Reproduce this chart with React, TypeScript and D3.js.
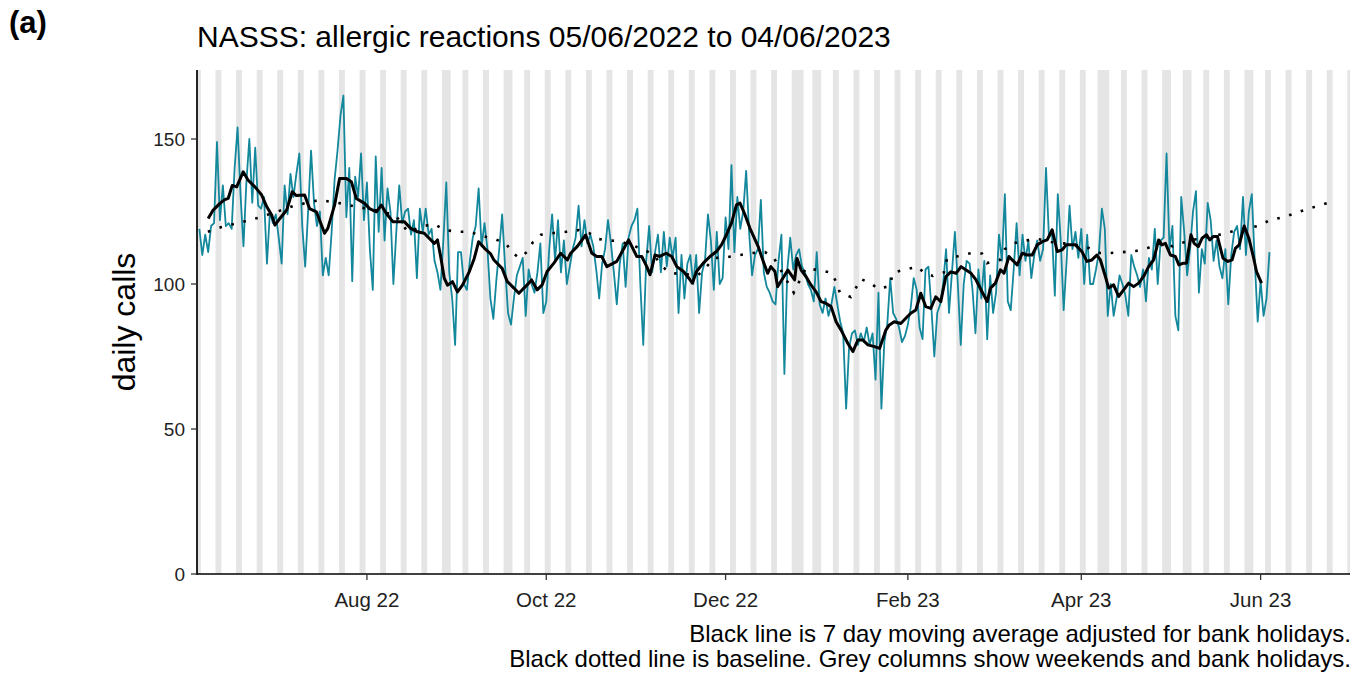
import React from "react";
import * as d3 from "d3";

// ---------------- data ----------------
const firstDay = "2022-06-05"; // day 0 of the daily series
const dailyCalls = [
  119, 110, 117, 111, 120, 121, 149, 122, 134, 120,
  121, 119, 140, 154, 131, 113, 135, 150, 128, 147,
  127, 126, 130, 107, 125, 121, 124, 116, 107, 134,
  124, 138,
  130, 138, 145, 120, 106, 125, 146, 128, 120, 125, 103, 109, 103, 118, 136, 146, 158, 165, 123, 140, 101, 137, 130, 145, 122, 135, 112, 98, 144, 118, 140, 115, 133, 125,
  100, 118, 134, 121, 125, 126, 117, 122, 102, 126, 118, 126, 117, 119, 108, 104, 98, 115, 135, 104, 95, 79, 111, 111, 100, 98, 108, 116, 120, 133, 113, 121, 112,
  95, 88, 101, 112, 124, 106, 90, 86, 95, 103, 106, 109, 89, 105, 100, 97, 104, 114, 90, 94, 112, 124, 108, 122, 104, 115, 100, 106, 112, 116, 127, 113, 122, 114,
  117, 113, 105, 95, 107, 112, 122, 114, 104, 93, 107, 114, 99, 116, 120, 122, 126, 100, 79, 108, 120, 104, 111, 117, 104, 118, 106, 116, 109, 116, 90, 110, 95, 107,
  110, 100, 110, 90, 104, 108, 124, 115, 98, 118, 100, 102, 123, 112, 141, 111, 130, 119, 125, 139, 118, 103, 110, 112, 129, 104, 99, 97, 94, 93, 108, 117, 69,
  105, 116, 105, 110, 112, 106, 104, 100, 98, 94, 111, 93, 90, 95, 89, 93, 99, 93, 87, 83, 57, 78, 83, 84, 79, 83, 80, 85, 79, 83, 67, 97, 57,
  80, 86, 102, 90, 88, 85, 80, 82, 86, 92, 102, 98, 85, 81, 105, 106, 92, 75, 90, 93, 100, 112, 90, 104, 118, 100, 79, 100, 108, 107,
  98, 83, 105, 95,
  108, 81, 103, 90, 97, 117, 108, 131, 94, 91, 105, 121, 103, 117, 108, 115, 102, 110, 115, 108, 112, 140, 116, 118, 96, 131, 115, 91, 108, 127, 112, 118, 109,
  119, 100, 117, 100, 100, 105, 111, 126, 119, 89, 100, 89, 95, 103, 100, 96, 89, 110, 106, 103, 99, 105, 94, 109, 105, 119, 100, 115, 116, 145, 112, 120, 89, 84,
  130, 118, 103, 112, 125, 132, 97, 112, 107, 128, 122, 108, 115, 106, 102, 112, 93, 110, 118, 120, 112, 130, 110, 125, 131, 108, 87, 101, 89, 95, 111,
];

// 7 day moving average: [day offset, value]
const movingAverage: [number, number][] = [
  [3, 122.6], [4.7, 125.5], [7, 127.8], [8.5, 129], [9.8, 129.5], [11.2, 134], [12.7, 133.5], [14.9, 138.7],
  [16.6, 135.8], [18.9, 133.5], [21.2, 130.7], [22.9, 126.7], [24.6, 123.8], [25.7, 120.3], [27.4, 122.6],
  [29.7, 125.5], [31.6, 131.8], [33, 130.5], [35.8, 130.7], [37.5, 126], [39.8, 124.9], [42.6, 117.5],
  [43.7, 119.2], [46, 127.2], [47.7, 136.4], [50, 136.4], [51.7, 135.3], [53.4, 129.5], [56.2, 127.8],
  [57.9, 126], [60.2, 124.9], [61.9, 127.2], [63.6, 124.3], [65.8, 121.5], [67.4, 121.5], [69.7, 121.5],
  [71.9, 119.2], [74.2, 118], [76.5, 117.5], [79.9, 114], [81, 115.2], [82.2, 108.8], [83.3, 102],
  [84.4, 99.6], [86.1, 100.8], [87.8, 97.3], [89.5, 99.6], [91.8, 104.2], [93.5, 108.8], [95, 114.6],
  [97, 112.3], [99, 110.5], [100.2, 108.3], [103, 105.4], [104.7, 100.9], [107, 98.6], [108.7, 96.8],
  [110.4, 98.6], [111.5, 99.7], [113, 101.4], [114.9, 98], [116.6, 99.7], [118.3, 104.3], [120.6, 107.2],
  [122.9, 110.6], [125.2, 108.3], [126.3, 110.6], [128.5, 112.9], [131.4, 116.9], [133.5, 110.6],
  [135.2, 109.5], [136.9, 109.5], [138.6, 106], [142, 107.8], [146, 115.2], [148.8, 109.5], [150.5, 109.5],
  [152.2, 106], [153.3, 103.2], [155, 110], [156.6, 109.5], [158.8, 110.6], [160.7, 109.5], [162.4, 106],
  [164.7, 104.3], [166.5, 102], [167.7, 100.3], [169.1, 104.3], [171.4, 107.2], [173.7, 109.5],
  [175.9, 111.2], [177.6, 113.5], [179.3, 117], [181, 121], [182.7, 127.3], [183.9, 127.9], [185.4, 124.4],
  [187.3, 119.2], [190.1, 112.9], [191.8, 107.8], [193.3, 103.7], [194.4, 106], [195.8, 104.3],
  [196.7, 99.1], [198.1, 101.4], [200.2, 104.8], [202.5, 101.4], [203.3, 108.8], [204.7, 104.8],
  [206.4, 102.5], [208.1, 99.6], [209.8, 97.3], [211.5, 93.9], [213.2, 93.3], [214.9, 92.2], [216.6, 87],
  [218.3, 84.1], [220.6, 79.5], [222.3, 76.7], [224, 80.7], [225.7, 80.7], [227.4, 79], [229.7, 78.4],
  [231.4, 77.8], [233.5, 84.1], [234.7, 85.9], [236.4, 87], [238.6, 86.4], [240.3, 88.2], [242, 89.9],
  [243.7, 91], [245.4, 96.8], [247.1, 92.2], [248.8, 91.6], [250.5, 95.6], [252.2, 93.9], [253.9, 102.5],
  [255.6, 104.2], [257.4, 103.7], [259.1, 106], [260.8, 104.8], [262.5, 103.7], [264.2, 101.4],
  [266.5, 96.8], [268, 94], [269.1, 98.6], [270.8, 100.3], [272.5, 104.9], [273.7, 103.7], [275.4, 109.5],
  [276.5, 108.3], [278.2, 106.6], [279.9, 110.6], [281.6, 110], [283.3, 110], [285, 113.5], [286.7, 114.6],
  [288.4, 115.2], [290.1, 118.7], [291.8, 111.2], [293.5, 111.8], [294.9, 113.5], [298, 113.5],
  [300.2, 111.2], [301.9, 107.8], [303.6, 108.3], [305.3, 110], [306.5, 108.3], [308.2, 102.6],
  [309.3, 98.6], [311, 99.7], [312.7, 95.7], [314.4, 98], [316.1, 100.3], [317.8, 99.1], [319.5, 100.3],
  [321.2, 102.6], [322.9, 106], [324.6, 108.3], [326.3, 115.2], [327.4, 113.5], [328.6, 114], [330.3, 110],
  [332, 109.5], [333.2, 106.6], [334.7, 107.2], [335.8, 107.2], [337.3, 117], [338.4, 114], [339.8, 112.9],
  [341.1, 115.8], [342.6, 117], [343.7, 115.2], [344.9, 116.4], [346.3, 116.4], [348.2, 108.9],
  [349.9, 107.8], [351.3, 108.3], [352.4, 112.3], [353.7, 113.5], [355.4, 120], [357, 115.8], [358.5, 109.5],
  [359.6, 104.3], [361.3, 100.3],
];

// baseline: [day offset, value]
const baseline: [number, number][] = [
  [2.9, 118], [7.3, 119.6], [11.4, 120.6], [15.8, 121.7], [19.9, 122.8], [28.1, 125.5], [32.2, 127],
  [41, 129], [45.1, 128.3], [49.5, 127.6], [53.6, 126.5], [58, 125.9], [62.1, 124.8], [66.5, 124],
  [70.9, 118], [76.4, 120], [79.8, 120.7], [83.5, 118.6], [88, 118], [92, 118], [96.1, 116.6],
  [100.5, 115.5], [104.3, 114], [106.3, 111], [108.7, 109], [111.4, 111], [113.5, 114.5], [116.2, 117],
  [120.6, 117.6], [124.7, 118], [129.1, 118.6], [132.5, 117.6], [135.9, 115.5], [139.7, 115],
  [142.7, 114.8], [151.2, 112], [155, 109.6], [157, 106.5], [160, 103.8], [169.6, 103], [175.4, 109],
  [179.8, 109.3], [183.9, 110], [188.3, 110.7], [192.4, 111], [195.4, 109], [200.9, 99.3], [202.2, 97],
  [206.3, 105.5], [210.4, 104.8], [214.8, 104], [216.5, 101], [217.9, 97], [221.6, 95.5], [223.3, 98.6],
  [225, 101.7], [228.4, 100.3], [230.8, 98.3], [234.9, 99.3], [235.9, 103.8], [240, 105], [244.4, 106],
  [246.5, 103.8], [249.5, 102.8], [253.3, 104], [254.3, 108.6], [258.4, 109.7], [262.8, 110.7],
  [266.2, 110.5], [267.9, 107.2], [272.3, 108.3], [274, 112], [276.7, 114], [281.1, 115], [285.2, 115.5],
  [289.7, 114.5], [294.1, 114], [298.2, 113.4], [302.6, 112.4], [306.3, 110.7], [309.7, 110.7],
  [314.1, 111], [318.6, 111.4], [322.6, 112.4], [326.7, 114], [331.1, 113], [335.2, 114.5],
  [339.3, 115.5], [343.4, 116.2], [347.8, 117.2], [351.9, 118.3], [360.1, 120], [364.1, 122],
  [368.6, 123], [373, 124.5], [377.1, 125.9], [381.5, 127.2], [385.6, 128.6],
];

const bankHolidays = [
  "2022-06-02", "2022-06-03", "2022-08-29", "2022-09-19", "2022-12-26", "2022-12-27",
  "2023-01-02", "2023-04-07", "2023-04-10", "2023-05-01", "2023-05-08", "2023-05-29",
];

const xTickDates = ["2022-08-01", "2022-10-01", "2022-12-01", "2023-02-01", "2023-04-01", "2023-06-01"];
const xTickLabels = ["Aug 22", "Oct 22", "Dec 22", "Feb 23", "Apr 23", "Jun 23"];
const yTicks = [0, 50, 100, 150];

const titleText = "NASSS: allergic reactions 05/06/2022 to 04/06/2023";
const panelLabel = "(a)";
const yTitle = "daily calls";
const captionLines = [
  "Black line is 7 day moving average adjusted for bank holidays.",
  "Black dotted line is baseline. Grey columns show weekends and bank holidays.",
];

// ---------------- helpers ----------------
const DAY = 86400000;
const t0 = Date.parse(firstDay + "T00:00:00Z");
const dayDate = (d: number) => new Date(t0 + d * DAY);
const FONT = "'Liberation Sans', Arial, Helvetica, sans-serif";

export default function App() {
  const W = 1357;
  const H = 675;
  const left = 197;
  const right = 1350;
  const top = 70;
  const bottom = 574;

  const x = d3.scaleUtc().domain([dayDate(-0.8), dayDate(391.4)]).range([left, right]);
  const y = d3.scaleLinear().domain([0, 173.8]).range([bottom, top]);

  // grey columns: weekend days and bank holidays, merged into runs
  const holidaySet = new Set(bankHolidays);
  const runs: [number, number][] = [];
  for (let i = -3; i <= 393; i++) {
    const dt = dayDate(i);
    const wd = dt.getUTCDay();
    const iso = dt.toISOString().slice(0, 10);
    if (wd === 0 || wd === 6 || holidaySet.has(iso)) {
      const last = runs[runs.length - 1];
      if (last && last[1] === i - 1) last[1] = i;
      else runs.push([i, i]);
    }
  }

  const dailyLine = d3
    .line<number>()
    .x((_, i) => x(dayDate(i)))
    .y((v) => y(v));
  const pairLine = d3
    .line<[number, number]>()
    .x((p) => x(dayDate(p[0])))
    .y((p) => y(p[1]));

  return (
    <svg
      width={W}
      height={H}
      viewBox={`0 0 ${W} ${H}`}
      style={{ position: "absolute", left: 0, top: 0, display: "block", background: "#fff" }}
      fontFamily={FONT}
    >
      <defs>
        <clipPath id="plotClip">
          <rect x={left} y={top} width={right - left} height={bottom - top} />
        </clipPath>
      </defs>
      <rect x={0} y={0} width={W} height={H} fill="#fff" />

      <g clipPath="url(#plotClip)">
        {runs.map(([a, b], k) => {
          const x0 = x(dayDate(a - 0.5));
          const x1 = x(dayDate(b + 0.5));
          return <rect key={k} x={x0} y={top} width={x1 - x0} height={bottom - top} fill="#e5e5e5" />;
        })}
        <path d={dailyLine(dailyCalls) || ""} fill="none" stroke="#13879c" strokeWidth={1.8} strokeLinejoin="round" />
        <path
          d={pairLine(baseline) || ""}
          fill="none"
          stroke="#000"
          strokeWidth={2.6}
          strokeDasharray="2.6 9.7"
        />
        <path d={pairLine(movingAverage) || ""} fill="none" stroke="#000" strokeWidth={3} strokeLinejoin="round" />
      </g>

      {/* axes */}
      <line x1={left} x2={left} y1={top} y2={bottom + 0.8} stroke="#000" strokeWidth={1.7} />
      <line x1={left - 0.8} x2={right} y1={bottom} y2={bottom} stroke="#000" strokeWidth={1.7} />
      {yTicks.map((t) => (
        <g key={t}>
          <line x1={left - 6} x2={left} y1={y(t)} y2={y(t)} stroke="#333" strokeWidth={1.3} />
          <text x={left - 12} y={y(t)} dy="0.35em" textAnchor="end" fontSize={19} fill="#1f1f1f">
            {t}
          </text>
        </g>
      ))}
      {xTickDates.map((s, i) => {
        const xx = x(new Date(s + "T00:00:00Z"));
        return (
          <g key={s}>
            <line x1={xx} x2={xx} y1={bottom} y2={bottom + 6} stroke="#333" strokeWidth={1.3} />
            <text x={xx} y={bottom + 33} textAnchor="middle" fontSize={20.5} fill="#1f1f1f">
              {xTickLabels[i]}
            </text>
          </g>
        );
      })}

      <text
        transform={`translate(135, ${(top + bottom) / 2}) rotate(-90)`}
        textAnchor="middle"
        fontSize={32}
        fill="#000"
      >
        {yTitle}
      </text>

      <text x={left} y={47} fontSize={30} fill="#000">
        {titleText}
      </text>
      <text x={9} y={33} fontSize={31} fontWeight="bold" fill="#000">
        {panelLabel}
      </text>

      {captionLines.map((c, i) => (
        <text key={i} x={right + 1} y={642 + i * 25} textAnchor="end" fontSize={24} fill="#000">
          {c}
        </text>
      ))}
    </svg>
  );
}
